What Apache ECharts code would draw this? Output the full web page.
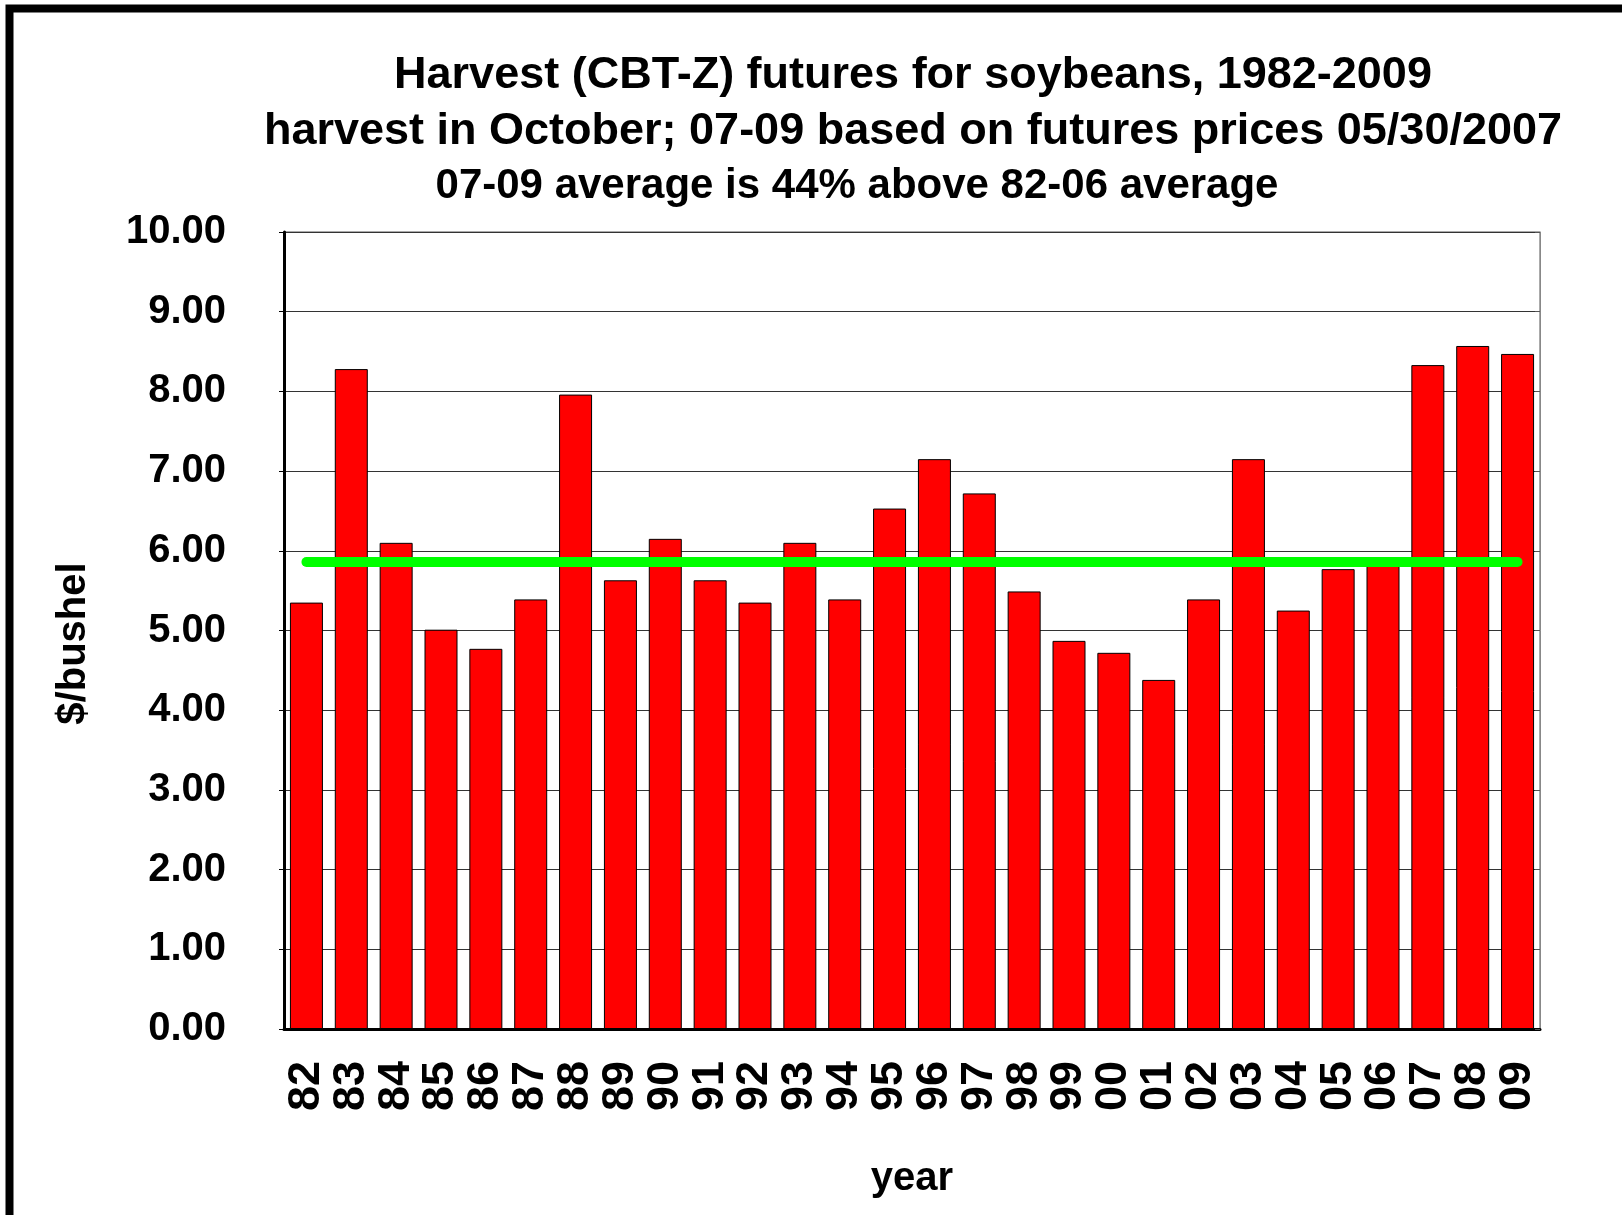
<!DOCTYPE html>
<html>
<head>
<meta charset="utf-8">
<script src="https://cdn.jsdelivr.net/npm/echarts@6/dist/echarts.min.js"></script>
<style>
  html, body { margin: 0; padding: 0; background: #fff; }
  #chart { width: 1622px; height: 1215px; }
</style>
</head>
<body>
<div id="chart"></div>
<script>
  // data
  const years = ['82', '83', '84', '85', '86', '87', '88', '89', '90', '91', '92', '93', '94', '95',
    '96', '97', '98', '99', '00', '01', '02', '03', '04', '05', '06', '07', '08', '09']
  const prices = [5.35, 8.28, 6.10, 5.01, 4.77, 5.39, 7.96, 5.63, 6.15, 5.63, 5.35, 6.10, 5.39, 6.53,
    7.15, 6.72, 5.49, 4.87, 4.72, 4.38, 5.39, 7.15, 5.25, 5.77, 5.84, 8.33, 8.57, 8.47]
  const avg8206 = 5.86 // green line
  const yTicks = { min: 0, max: 10, interval: 1 }
  const titleLines = [
    'Harvest (CBT-Z) futures for soybeans, 1982-2009',
    'harvest in October; 07-09 based on futures prices 05/30/2007',
    '07-09 average is 44% above 82-06 average'
  ]

  const FONT = '"Liberation Sans", Arial, Helvetica, sans-serif'
  const chart = echarts.init(document.getElementById('chart'))

  // title text helper
  function titleText(text, x, y, size) {
    return {
      type: 'text',
      x: x,
      y: y,
      style: {
        text: text,
        font: 'bold ' + size + 'px ' + FONT,
        fill: '#000',
        align: 'center',
        verticalAlign: 'middle',
        textAlign: 'center',
        textVerticalAlign: 'middle'
      }
    }
  }

  const option = {
    backgroundColor: '#fff',
    animation: false,
    textStyle: { fontFamily: FONT },
    grid: {
      left: 284,
      right: 82,
      top: 232,
      bottom: 186,
      show: true,
      borderColor: '#555',
      borderWidth: 1
    },
    graphic: [
      // outer frame (runs off the right and bottom edges)
      {
        type: 'rect',
        shape: { x: 9.5, y: 8.5, width: 1700, height: 1300 },
        style: { fill: 'none', stroke: '#000', lineWidth: 8 },
        z: 100
      },
      titleText(titleLines[0], 913, 76, 45),
      titleText(titleLines[1], 913, 132, 45),
      titleText(titleLines[2], 857, 186, 42)
    ],
    xAxis: {
      type: 'category',
      data: years,
      name: 'year',
      nameLocation: 'middle',
      nameGap: 130,
      nameTextStyle: { color: '#000', fontSize: 40, fontWeight: 'bold', fontFamily: FONT },
      axisLine: { lineStyle: { color: '#000', width: 3 } },
      axisTick: { show: false },
      axisLabel: {
        interval: 0,
        rotate: 90,
        margin: 32,
        color: '#000',
        fontSize: 45,
        fontWeight: 'bold',
        fontFamily: FONT
      }
    },
    yAxis: [{
      type: 'value',
      min: yTicks.min,
      max: yTicks.max,
      interval: yTicks.interval,
      name: '$/bushel',
      nameLocation: 'middle',
      nameGap: 190,
      nameTextStyle: {
        color: '#000', fontSize: 40, fontWeight: 'bold', fontFamily: FONT,
        padding: [0, 26, 0, 0]
      },
      axisLine: { show: true, lineStyle: { color: '#000', width: 3 } },
      axisTick: { show: true, length: 5, lineStyle: { color: '#000' } },
      axisLabel: {
        margin: 58,
        color: '#000',
        fontSize: 40,
        fontWeight: 'bold',
        fontFamily: FONT,
        formatter: function(v) {
          return v.toFixed(2)
        }
      },
      splitLine: { lineStyle: { color: '#333', width: 1 } }
    }, {
      // right edge with small inward ticks
      type: 'value',
      position: 'right',
      min: yTicks.min,
      max: yTicks.max,
      interval: yTicks.interval,
      axisLine: { show: true, lineStyle: { color: '#888', width: 1 } },
      axisTick: { show: true, inside: true, length: 5, lineStyle: { color: '#555' } },
      axisLabel: { show: false },
      splitLine: { show: false }
    }],
    series: [{
      type: 'bar',
      data: prices,
      barWidth: 33,
      itemStyle: {
        color: '#ff0000',
        borderColor: '#000',
        borderWidth: 1
      },
      markLine: {
        silent: true,
        symbol: ['none', 'none'],
        label: { show: false },
        lineStyle: { color: '#00ff00', width: 10, type: 'solid', cap: 'round' },
        data: [[
          { coord: [years[0], avg8206] },
          { coord: [years[years.length - 1], avg8206] }
        ]]
      }
    }]
  }
  chart.setOption(option)
</script>
</body>
</html>
